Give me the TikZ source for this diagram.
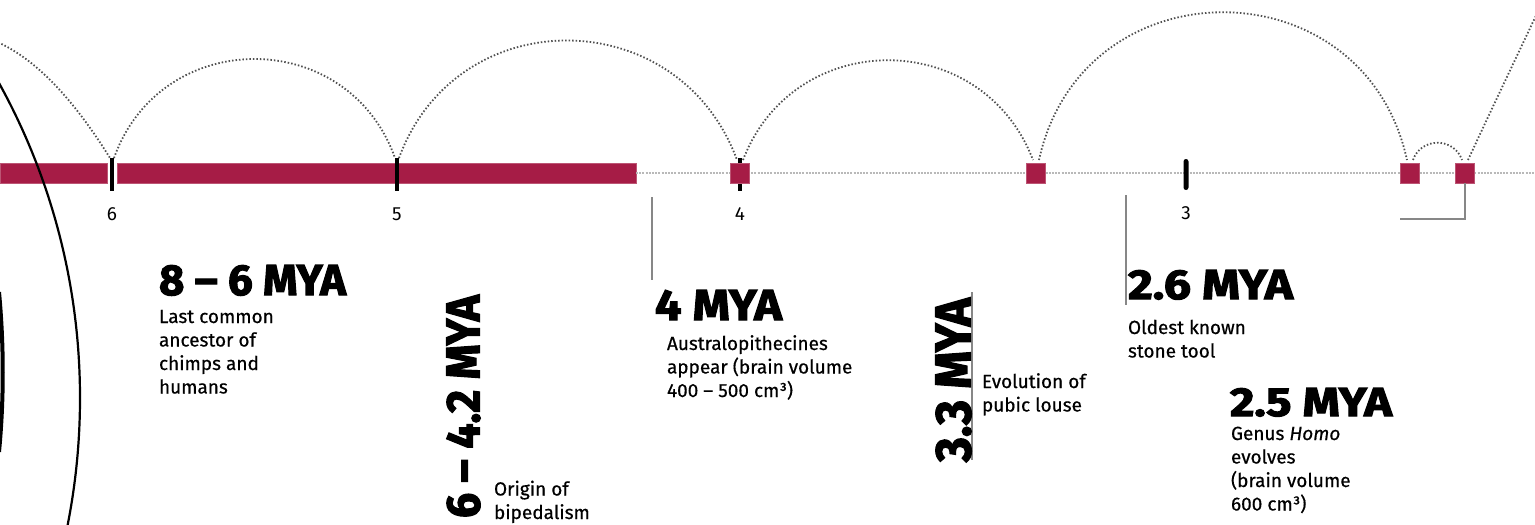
\documentclass[tikz,border=0pt]{standalone}
\usepackage{fontspec}
\usepackage{graphicx}
\setmainfont{Fira Sans}
\newfontfamily\bodyfont{Fira Sans}[FakeBold=0.5]
\newfontfamily\headfont{Fira Sans}[BoldFeatures={FakeBold=2.5}]
\definecolor{crim}{RGB}{166,28,70}
\definecolor{dotgrey}{RGB}{80,80,80}
\definecolor{basegrey}{RGB}{185,185,185}
\definecolor{linegrey}{RGB}{135,135,135}
\tikzset{
  barsty/.style={fill=crim, draw=crim!75!white, line width=0.6pt, inner sep=0, outer sep=0, minimum height=20pt},
  sqsty/.style={fill=crim, draw=crim!75!white, line width=0.6pt, inner sep=0, outer sep=0, minimum width=19pt, minimum height=20pt},
  ticksty/.style={fill=black, inner sep=0, outer sep=0, minimum width=4pt, minimum height=33pt},
  arcsty/.style={dotgrey, line width=1.8pt, dash pattern=on 1.5pt off 2pt},
  basesty/.style={basegrey, line width=2.8pt, dash pattern=on 2pt off 1.2pt},
  greyline/.style={linegrey, line width=2pt},
  bodytxt/.style={anchor=base west, inner sep=0, outer sep=0, align=left, font=\bodyfont\fontsize{19}{23.5}\selectfont},
  ticklab/.style={inner sep=0, outer sep=0, font=\fontsize{19}{19}\selectfont},
  headtxt/.style={inner sep=0, outer sep=0, anchor=north west, font=\headfont\bfseries\fontsize{40}{40}\selectfont},
  rothead/.style={inner sep=0, outer sep=0, rotate=90, font=\headfont\bfseries\fontsize{40}{40}\selectfont}
}
\begin{document}
\begin{tikzpicture}[x=1pt,y=-1pt]
\useasboundingbox[fill=white] (0,0) rectangle (1535,525);

% bar
\node[barsty, minimum width=107pt, anchor=west] (bar0) at (0,173) {};
\node[barsty, minimum width=519pt, anchor=west] (bar) at (117,173) {};
\coordinate (re) at (1535,173);
\draw[basesty] (bar.east) -- (re);

% ticks
\node[ticksty] (t6) at (112,174.5) {};
\node[ticksty] (t5) at (397,174.5) {};
\node[ticksty] (t4) at (740,174.5) {};
\node[ticksty, minimum width=5pt, minimum height=31pt, rounded corners=2.5pt] (t3) at (1186,174.5) {};

% squares
\node[sqsty] (s4) at (740,173) {};
\node[sqsty] (s33) at (1036,173) {};
\node[sqsty] (s26) at (1410,173) {};
\node[sqsty] (s25) at (1465,173) {};

% black curves on the left
\draw[line width=2.2pt] (-572,398) circle (652pt);
\draw[line width=4pt] (-1,292) .. controls (4,345) and (4,400) .. (-1,452);

% tick labels
\node[ticklab] (l6) at (112,214) {6};
\node[ticklab] (l5) at (397,214) {5};
\node[ticklab] (l4) at (740,214) {4};
\node[ticklab] (l3) at (1186,213) {3};

% dotted arcs
\coordinate (fl) at (-5,41);
\coordinate (fr) at (1548,-10);
\draw[arcsty] (fl) .. controls +(50,21) and +(-25,-40) .. ([xshift=-2pt]t6.north);
\draw[arcsty] ([xshift=2pt]t6.north) .. controls +(47,-132) and +(-47,-132) .. ([xshift=-2pt]t5.north);
\draw[arcsty] ([xshift=2pt]t5.north) .. controls +(58,-158) and +(-58,-158) .. ([xshift=-3pt,yshift=3pt]s4.north);
\draw[arcsty] ([xshift=3pt,yshift=3pt]s4.north) .. controls +(51,-133) and +(-51,-133) .. ([xshift=-3pt,yshift=3pt]s33.north);
\draw[arcsty] ([xshift=3pt,yshift=3pt]s33.north) .. controls +(43,-197) and +(-43,-197) .. ([xshift=-3pt,yshift=3pt]s26.north);
\draw[arcsty] ([xshift=3pt,yshift=3pt]s26.north) .. controls +(8,-23) and +(-8,-23) .. ([xshift=-3pt,yshift=3pt]s25.north);
\draw[arcsty] ([xshift=3pt,yshift=3pt]s25.north) .. controls +(24,-52) and +(-13,28) .. (fr);

% grey pointer lines
\coordinate (p4a) at (652,197); \coordinate (p4b) at (652,280);
\draw[greyline] (p4a) -- (p4b);
\coordinate (p26a) at (1126,195); \coordinate (p26b) at (1126,305);
\draw[greyline] (p26a) -- (p26b);
\coordinate (p33a) at (972,292); \coordinate (p33b) at (972,460);
\draw[greyline] (p33a) -- (p33b);
\coordinate (bk) at (1400,219);
\draw[greyline] (s25.south) |- (bk);

% headings
\node[headtxt] (h86) at (159,265) {\resizebox{187pt}{30pt}{8 – 6 MYA}};
\node[headtxt] (h4) at (655,290) {\resizebox{127pt}{30pt}{4 MYA}};
\node[headtxt] (h26) at (1128,270) {\resizebox{165pt}{29pt}{2.6 MYA}};
\node[headtxt] (h25) at (1230,388) {\resizebox{162pt}{28pt}{2.5 MYA}};
\node[rothead] (h642) at (463.5,406.5) {\resizebox{223pt}{33pt}{6 – 4.2 MYA}};
\node[rothead] (h33) at (953.5,380) {\resizebox{164pt}{35pt}{3.3 MYA}};

% body texts (anchored at the baseline of the last line)
\node[bodytxt] (b86) at (159,393.5) {Last common\\ancestor of\\chimps and\\humans};
\node[bodytxt] (b642) at (494,519) {Origin of\\bipedalism};
\node[bodytxt] (b4) at (667,397) {Australopithecines\\appear (brain volume\\400 – 500 cm³)};
\node[bodytxt] (b33) at (982,411.5) {Evolution of\\pubic louse};
\node[bodytxt] (b26) at (1128,357.5) {Oldest known\\stone tool};
\node[bodytxt] (b25) at (1231,510.5) {Genus \textit{Homo}\\evolves\\(brain volume\\600 cm³)};
\end{tikzpicture}
\end{document}
